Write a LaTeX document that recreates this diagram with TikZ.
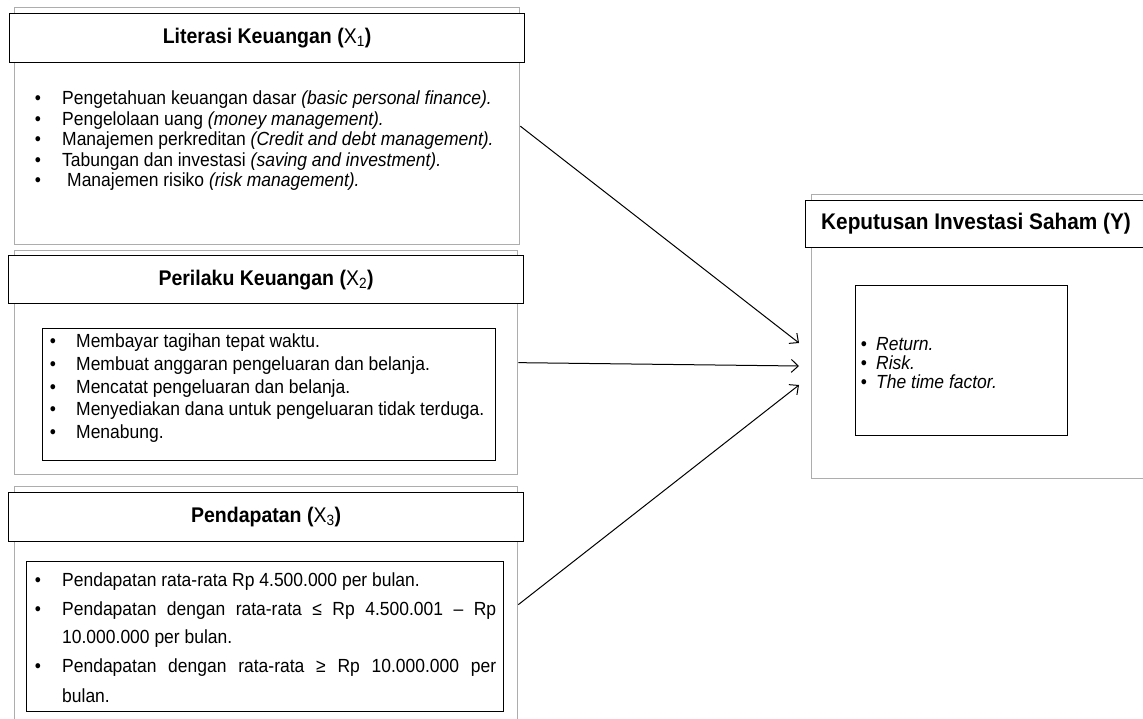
\documentclass[tikz,border=0pt]{standalone}
\usepackage{fontspec}
\setmainfont{Liberation Sans}[FakeStretch=0.92]
\usetikzlibrary{arrows.meta}
\begin{document}
\begin{tikzpicture}[x=1pt,y=-1pt,
  outerbox/.style={draw=black!32, line width=1.3pt, inner sep=0},
  headbox/.style={draw=black, line width=1.2pt, fill=white, inner sep=0},
  innerbox/.style={draw=black, line width=1.2pt, inner sep=0},
  ttl/.style={font=\fontsize{21.2}{24}\selectfont\bfseries, inner sep=0},
  txt/.style={font=\fontsize{19}{22}\selectfont, anchor=base west, inner sep=0},
  bul/.style={font=\fontsize{19}{22}\selectfont, anchor=base, inner sep=0}]
\tikzset{conn/.style={-{Straight Barb[length=7pt,width=13pt]}, line width=1pt}}
\clip (0,0) rectangle (1143,719);
\fill[white] (0,0) rectangle (1143,719);
% ---------- X1
\node[outerbox, anchor=north west, minimum width=505, minimum height=237] (x1) at (14,7) {};
\node[headbox, anchor=north west, minimum width=515, minimum height=49] (h1) at (9,13) {};
\node[ttl] (t1) at (h1.center) {Literasi Keuangan (\mdseries X\textsubscript{1}\bfseries)};
\node[bul] (b11) at (38,105) {•};
\node[txt] (l11) at (62,105) {Pengetahuan keuangan dasar \textit{(basic personal finance).}};
\node[bul] (b12) at (38,125.5) {•};
\node[txt] (l12) at (62,125.5) {Pengelolaan uang \textit{(money management).}};
\node[bul] (b13) at (38,146) {•};
\node[txt] (l13) at (62,146) {Manajemen perkreditan \textit{(Credit and debt management).}};
\node[bul] (b14) at (38,166.5) {•};
\node[txt] (l14) at (62,166.5) {Tabungan dan investasi \textit{(saving and investment).}};
\node[bul] (b15) at (38,187) {•};
\node[txt] (l15) at (67,187) {Manajemen risiko \textit{(risk management).}};
% ---------- X2
\node[outerbox, anchor=north west, minimum width=503, minimum height=224] (x2) at (14,250) {};
\node[headbox, anchor=north west, minimum width=515, minimum height=48] (h2) at (8,255) {};
\node[ttl] (t2) at (h2.center) {Perilaku Keuangan (\mdseries X\textsubscript{2}\bfseries)};
\node[innerbox, anchor=north west, minimum width=453, minimum height=132] (i2) at (42,328) {};
\node[bul] (b21) at (53,347) {•};
\node[txt] (l21) at (76,347) {Membayar tagihan tepat waktu.};
\node[bul] (b22) at (53,370) {•};
\node[txt] (l22) at (76,370) {Membuat anggaran pengeluaran dan belanja.};
\node[bul] (b23) at (53,393) {•};
\node[txt] (l23) at (76,393) {Mencatat pengeluaran dan belanja.};
\node[bul] (b24) at (53,415) {•};
\node[txt] (l24) at (76,415) {Menyediakan dana untuk pengeluaran tidak terduga.};
\node[bul] (b25) at (53,438) {•};
\node[txt] (l25) at (76,438) {Menabung.};
% ---------- X3
\node[outerbox, anchor=north west, minimum width=503, minimum height=236] (x3) at (14,486) {};
\node[headbox, anchor=north west, minimum width=515, minimum height=49] (h3) at (8,492) {};
\node[ttl] (t3) at (h3.center) {Pendapatan (\mdseries X\textsubscript{3}\bfseries)};
\node[innerbox, anchor=north west, minimum width=477, minimum height=150] (i3) at (26,561) {};
\node[bul] (b31) at (38,586) {•};
\node[txt] (l31) at (62,586) {Pendapatan rata-rata Rp 4.500.000 per bulan.};
\node[bul] (b32) at (38,615) {•};
\node[txt] (l32) at (62,615) {\makebox[434pt][s]{Pendapatan dengan rata-rata ≤ Rp 4.500.001 – Rp}};
\node[txt] (l33) at (62,643) {10.000.000 per bulan.};
\node[bul] (b34) at (38,672) {•};
\node[txt] (l34) at (62,672) {\makebox[434pt][s]{Pendapatan dengan rata-rata ≥ Rp 10.000.000 per}};
\node[txt] (l35) at (62,702) {bulan.};
% ---------- Y
\node[outerbox, anchor=north west, minimum width=360, minimum height=284] (y) at (811,194) {};
\node[headbox, anchor=north west, minimum width=360, minimum height=47] (hy) at (805,200) {};
\node[ttl, font=\fontsize{22.6}{26}\selectfont\bfseries] (ty) at (976,223.5) {Keputusan Investasi Saham (Y)};
\node[innerbox, anchor=north west, minimum width=212, minimum height=150] (iy) at (855,285) {};
\node[bul] (by1) at (864,350) {•};
\node[txt] (ly1) at (876,350) {\textit{Return.}};
\node[bul] (by2) at (864,369) {•};
\node[txt] (ly2) at (876,369) {\textit{Risk.}};
\node[bul] (by3) at (864,388) {•};
\node[txt] (ly3) at (876,388) {\textit{The time factor.}};
% ---------- connectors
\coordinate (e1) at (799,343);
\coordinate (e2) at (799,366);
\coordinate (e3) at (799,385);
\draw[conn] (x1.east) -- (e1);
\draw[conn] (x2.east) -- (e2);
\draw[conn] (x3.east) -- (e3);
\end{tikzpicture}
\end{document}
